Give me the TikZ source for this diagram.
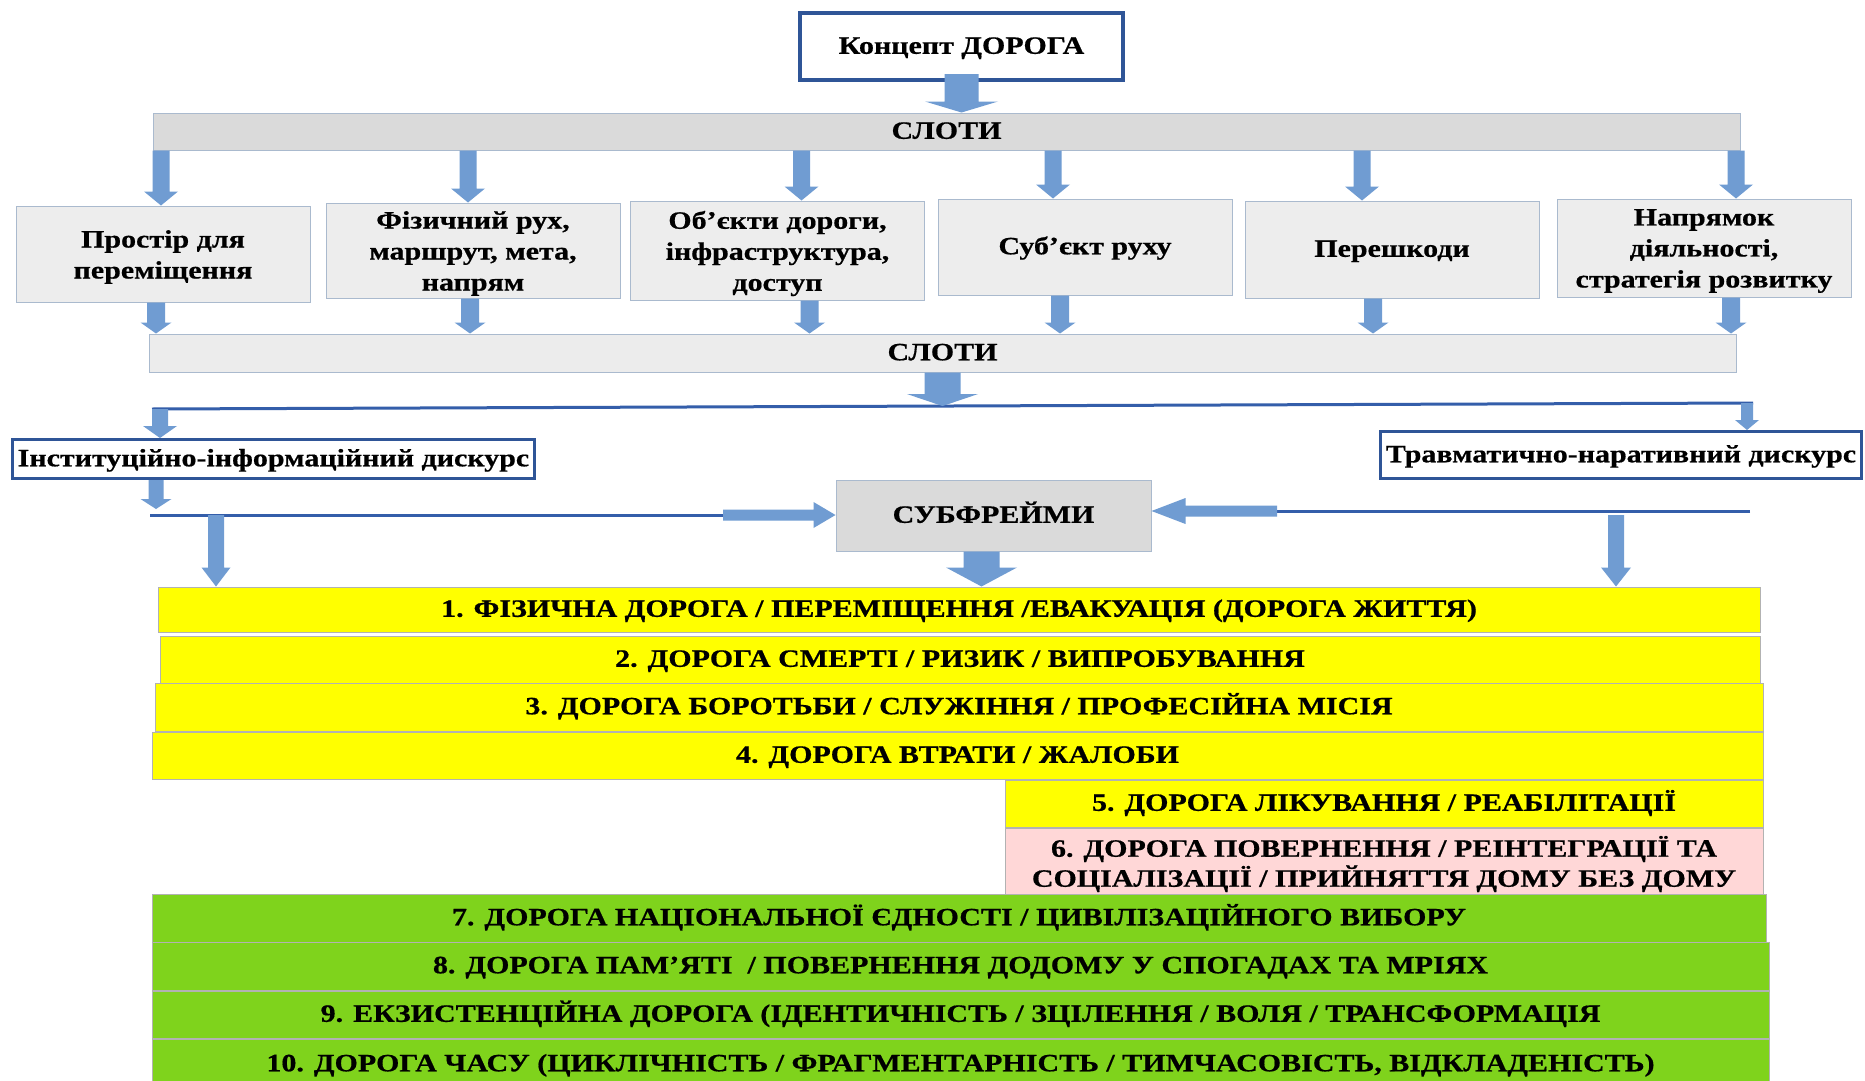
\documentclass[tikz,border=0pt]{standalone}
\usepackage{fontspec}
\setmainfont{LiberationSerif-Regular.ttf}[BoldFont=LiberationSerif-Bold.ttf, FakeStretch=1.2, BoldFeatures={FakeBold=0.6}]
\usetikzlibrary{calc}
\definecolor{arrowfill}{RGB}{112,156,210}
\definecolor{linkblue}{RGB}{52,94,170}
\definecolor{darkframe}{RGB}{47,85,151}
\definecolor{boxedge}{RGB}{170,186,206}
\definecolor{bargray}{RGB}{218,218,218}
\definecolor{lightbar}{RGB}{236,236,236}
\definecolor{boxgray}{RGB}{237,237,237}
\definecolor{rowyellow}{RGB}{255,255,0}
\definecolor{rowpink}{RGB}{255,215,215}
\definecolor{rowgreen}{RGB}{127,211,28}
\definecolor{rowedge}{RGB}{178,178,178}

% block arrow downward: x and top from #1, tip y from #2; shaft width, head width, head length
\newcommand\blkdown[5]{\fill[arrowfill] let \p1=(#1), \p2=(#2) in
 ([xshift=-0.5*#3]\x1,\y1) -- ([xshift=0.5*#3]\x1,\y1) -- ([xshift=0.5*#3,yshift=#5]\x1,\y2)
 -- ([xshift=0.5*#4,yshift=#5]\x1,\y2) -- (\x1,\y2) -- ([xshift=-0.5*#4,yshift=#5]\x1,\y2)
 -- ([xshift=-0.5*#3,yshift=#5]\x1,\y2) -- cycle;}
% block arrow to the right: start and y from #1, tip x from #2
\newcommand\blkright[5]{\fill[arrowfill] let \p1=(#1), \p2=(#2) in
 ([yshift=0.5*#3]\x1,\y1) -- ([yshift=0.5*#3,xshift=-#5]\x2,\y1) -- ([yshift=0.5*#4,xshift=-#5]\x2,\y1)
 -- (\x2,\y1) -- ([yshift=-0.5*#4,xshift=-#5]\x2,\y1) -- ([yshift=-0.5*#3,xshift=-#5]\x2,\y1)
 -- ([yshift=-0.5*#3]\x1,\y1) -- cycle;}
% block arrow to the left
\newcommand\blkleft[5]{\fill[arrowfill] let \p1=(#1), \p2=(#2) in
 ([yshift=0.5*#3]\x1,\y1) -- ([yshift=0.5*#3,xshift=#5]\x2,\y1) -- ([yshift=0.5*#4,xshift=#5]\x2,\y1)
 -- (\x2,\y1) -- ([yshift=-0.5*#4,xshift=#5]\x2,\y1) -- ([yshift=-0.5*#3,xshift=#5]\x2,\y1)
 -- ([yshift=-0.5*#3]\x1,\y1) -- cycle;}

\tikzset{
  every node/.style={inner sep=0pt, align=center, font=\bfseries\fontsize{25}{31}\selectfont},
  oneline/.style={text height=18pt, text depth=3.4pt},
  conceptbox/.style={oneline, draw=darkframe, line width=4pt, fill=white, minimum width=323, minimum height=67},
  slotbar/.style={oneline, draw=boxedge, line width=1pt, minimum width=1587, minimum height=37},
  slotbox/.style={fill=boxgray, draw=boxedge, line width=1pt, minimum width=294},
  discbox/.style={oneline, draw=darkframe, line width=3pt, fill=white},
  subfbox/.style={oneline, fill=bargray, draw=boxedge, line width=1pt, minimum width=315, minimum height=71},
  rowbox/.style={draw=rowedge, line width=1pt},
  linkline/.style={draw=linkblue, line width=3pt},
}

\begin{document}
\begin{tikzpicture}[x=1pt, y=-1pt]
\useasboundingbox[fill=white] (0,0) rectangle (1865,1081);

% ---- top
\node[conceptbox] (concept) at (961.5,46.5) {Концепт ДОРОГА};
\node[slotbar, fill=bargray] (slots1) at (946.5,131.5) {СЛОТИ};

\node[slotbox, minimum height=96] (box1) at (163,254) {};
\node[slotbox, minimum height=95] (box2) at (473,250.5) {};
\node[slotbox, minimum height=99] (box3) at (777.5,250.5) {};
\node[slotbox, minimum height=96, oneline] (box4) at (1085,247) {Суб’єкт руху};
\node[slotbox, minimum height=97, oneline] (box5) at (1392,249.5) {Перешкоди};
\node[slotbox, minimum height=98] (box6) at (1704,248) {};
\node (box1txt) at ([yshift=-3pt]box1.center) {Простір для\\переміщення};
\node (box2txt) at ([yshift=-3pt]box2.center) {Фізичний рух,\\маршрут, мета,\\напрям};
\node (box3txt) at ([yshift=-3pt]box3.center) {Об’єкти дороги,\\інфраструктура,\\доступ};
\node (box6txt) at ([yshift=-3pt]box6.center) {Напрямок\\діяльності,\\стратегія розвитку};

\node[slotbar, fill=lightbar, minimum height=38] (slots2) at (942.5,353) {СЛОТИ};

% concept -> slots
\blkdown{[yshift=8pt]concept.south}{slots1.north}{34}{73}{11}

% slots1 -> boxes
\path (box1.north) ++(-2,0) coordinate (t1);
\path (box2.north) ++(-5,0) coordinate (t2);
\path (box3.north) ++(24,0) coordinate (t3);
\path (box4.north) ++(-32,0) coordinate (t4);
\path (box5.north) ++(-30,0) coordinate (t5);
\path (box6.north) ++(32,0) coordinate (t6);
\foreach \i in {1,...,6}{\blkdown{slots1.south -| t\i}{t\i}{17}{34}{14}}

% boxes -> slots2
\path (box1.south) ++(-7,0) coordinate (u1);
\path (box2.south) ++(-3,0) coordinate (u2);
\path (box3.south) ++(32,0) coordinate (u3);
\path (box4.south) ++(-25,0) coordinate (u4);
\path (box5.south) ++(-19,0) coordinate (u5);
\path (box6.south) ++(27,0) coordinate (u6);
\foreach \i in {1,...,6}{\blkdown{u\i}{slots2.north -| u\i}{18}{31}{11}}

% ---- discourse split
\coordinate (bl) at (152,409);
\coordinate (br) at (1753,403);
\draw[linkline] (bl) -- (br);
\blkdown{slots2.south}{$(bl)!(slots2.south)!(br)$}{36}{71}{12}

\node[discbox, minimum width=522, minimum height=39] (inst) at (273.5,459) {Інституційно-інформаційний дискурс};
\node[discbox, minimum width=481, minimum height=47] (trav) at (1621,455) {Травматично-наративний дискурс};

\path (bl) ++(8,0) coordinate (bla);
\path (br) ++(-6,0) coordinate (bra);
\blkdown{bla}{inst.north}{16}{34}{12}
\blkdown{bra}{trav.north}{12}{24}{10}

% ---- subframes
\node[subfbox] (subf) at (993.5,515.5) {СУБФРЕЙМИ};

\coordinate (l2l) at (150,515);
\coordinate (l2e) at (723,515);
\path (l2l) ++(6,-6) coordinate (l2a);
\blkdown{inst.south -| l2a}{l2a}{15}{31}{10}
\draw[linkline] (l2l) -- (l2e);
\blkright{l2e}{subf.west}{11}{26}{22}

\coordinate (r2r) at (1750,511);
\coordinate (r2e) at (1277,511);
\draw[linkline] (r2r) -- (r2e);
\blkleft{r2e}{subf.east}{11}{26}{34}

% ---- rows
\node[rowbox, oneline, fill=rowyellow, minimum width=1602, minimum height=45] (row1) at (959,609.5)
  {1. ФІЗИЧНА ДОРОГА / ПЕРЕМІЩЕННЯ /ЕВАКУАЦІЯ (ДОРОГА ЖИТТЯ)};
\node[rowbox, oneline, fill=rowyellow, minimum width=1600, minimum height=47] (row2) at (960,659.5)
  {2. ДОРОГА СМЕРТІ / РИЗИК / ВИПРОБУВАННЯ};
\node[rowbox, oneline, fill=rowyellow, minimum width=1608, minimum height=48] (row3) at (959,707)
  {3. ДОРОГА БОРОТЬБИ / СЛУЖІННЯ / ПРОФЕСІЙНА МІСІЯ};
\node[rowbox, oneline, fill=rowyellow, minimum width=1611, minimum height=47] (row4) at (957.5,755.5)
  {4. ДОРОГА ВТРАТИ / ЖАЛОБИ};
\node[rowbox, oneline, fill=rowyellow, minimum width=758, minimum height=47] (row5) at (1384,803.5)
  {5. ДОРОГА ЛІКУВАННЯ / РЕАБІЛІТАЦІЇ};
\node[rowbox, fill=rowpink, minimum width=758, minimum height=66] (row6) at (1384,861) {};
\node[font=\bfseries\fontsize{25}{30}\selectfont] (row6txt) at ([yshift=-3pt]row6.center)
  {6. ДОРОГА ПОВЕРНЕННЯ / РЕІНТЕГРАЦІЇ ТА\\СОЦІАЛІЗАЦІЇ / ПРИЙНЯТТЯ ДОМУ БЕЗ ДОМУ};
\node[rowbox, oneline, fill=rowgreen, minimum width=1614, minimum height=48] (row7) at (959,918)
  {7. ДОРОГА НАЦІОНАЛЬНОЇ ЄДНОСТІ / ЦИВІЛІЗАЦІЙНОГО ВИБОРУ};
\node[rowbox, oneline, fill=rowgreen, minimum width=1617, minimum height=48] (row8) at (960.5,966)
  {8. ДОРОГА ПАМ’ЯТІ~~/ ПОВЕРНЕННЯ ДОДОМУ У СПОГАДАХ ТА МРІЯХ};
\node[rowbox, oneline, fill=rowgreen, minimum width=1617, minimum height=47] (row9) at (960.5,1014.5)
  {9. ЕКЗИСТЕНЦІЙНА ДОРОГА (ІДЕНТИЧНІСТЬ / ЗЦІЛЕННЯ / ВОЛЯ / ТРАНСФОРМАЦІЯ};
\node[rowbox, oneline, fill=rowgreen, minimum width=1617, minimum height=50] (row10) at (960.5,1064)
  {10. ДОРОГА ЧАСУ (ЦИКЛІЧНІСТЬ / ФРАГМЕНТАРНІСТЬ / ТИМЧАСОВІСТЬ, ВІДКЛАДЕНІСТЬ)};

% arrows into rows
\path (subf.south) ++(-12,0) coordinate (sd);
\blkdown{sd}{row1.north}{36}{71}{19}
\coordinate (l2d) at (216,515);
\blkdown{l2d}{row1.north}{16}{29}{19}
\coordinate (r2d) at (1616,515);
\blkdown{r2d}{row1.north}{16}{30}{19}
\end{tikzpicture}
\end{document}
